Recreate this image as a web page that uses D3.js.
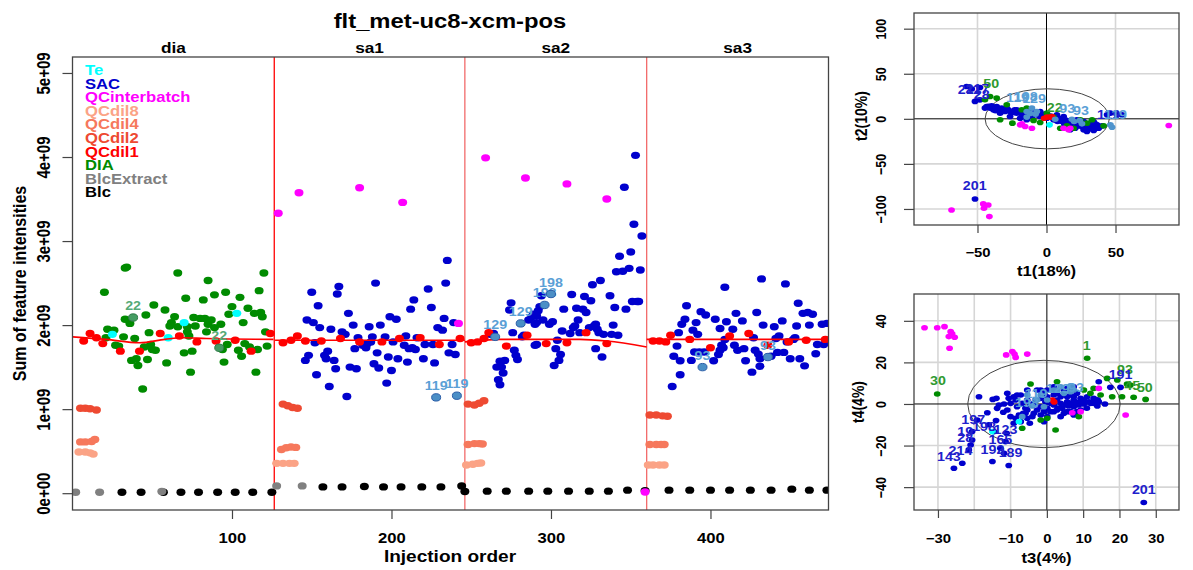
<!DOCTYPE html>
<html>
<head>
<meta charset="utf-8">
<script src="https://cdn.jsdelivr.net/npm/d3@7"></script>
<style>
  body { margin: 0; background: #fff; }
  text { font-family: "Liberation Sans", Arial, Helvetica, sans-serif; font-weight: bold; }
</style>
</head>
<body>
<div id="chart"></div>
<script>
// ---------- data: main panel (injection order, sum of intensities in 1e9) ----------
const chartTitle = 'flt_met-uc8-xcm-pos'
const batchNames = ['dia', 'sa1', 'sa2', 'sa3']
const batchEdges = [0, 126.5, 246, 360, 474]
const yTicks = [0, 1, 2, 3, 4, 5]
const xTicks = [100, 200, 300, 400]
const legendTypes = ['Te', 'SAC', 'QCinterbatch', 'QCdil8', 'QCdil4', 'QCdil2', 'QCdil1', 'DIA', 'BlcExtract', 'Blc']

const blcPts = [[31,0.012],[43,0.012],[57,0.012],[68,0.012],[79,0.012],[91,0.012],[102,0.012],[113,0.012],[125,0.012],
  [157,0.075],[169,0.075],[183,0.08],[195,0.075],[206,0.075],[219,0.075],[231,0.075],[244,0.085],
  [246,0.02],[260,0.024],[272,0.024],[286,0.024],[298,0.024],[311,0.024],[324,0.024],[336,0.024],[348,0.036],[359,0.03],
  [374,0.036],[387,0.036],[400,0.036],[412,0.036],[425,0.036],[438,0.036],[451,0.048],[462,0.036],[473,0.036]]
const blcExtractPts = [[2,0.012],[17,0.012],[56,0.02],[128,0.087],[144,0.087]]
const qcDil8Pts = [[4,0.49],[8,0.49],[11,0.48],[13,0.465],[128,0.355],[132,0.355],[136,0.355],[139,0.355],
  [247,0.335],[251,0.345],[254,0.355],[256,0.36],[361,0.335],[364,0.335],[368,0.335],[371,0.335]]
const qcDil4Pts = [[5,0.61],[8,0.61],[12,0.615],[14,0.64],[131,0.52],[134,0.54],[137,0.55],[140,0.545],
  [248,0.58],[252,0.59],[255,0.59],[257,0.585],[362,0.58],[366,0.58],[369,0.58],[371,0.58]]
const qcDil2Pts = [[5,1.01],[8,1.01],[11,1.005],[15,0.99],[132,1.06],[135,1.04],[138,1.02],[141,1.01],
  [248,1.06],[252,1.05],[255,1.07],[258,1.10],[362,0.93],[366,0.93],[370,0.92],[373,0.915]]
const qcDil1Pts = [[7,1.81],[11,1.90],[15,1.85],[19,1.78],[30,1.69],[42,1.69],[55,1.90],[67,1.87],[78,1.80],[90,1.81],[102,1.82],[112,1.69],[124,1.90],
  [132,1.79],[137,1.82],[141,1.87],[146,1.81],[156,1.81],[168,1.84],[180,1.80],[194,1.80],[205,1.84],[218,1.85],[230,1.77],[243,1.84],
  [250,1.79],[254,1.80],[258,1.84],[261,1.91],[272,1.75],[285,1.88],[297,1.78],[310,1.79],[322,1.91],[335,1.78],
  [364,1.81],[368,1.81],[372,1.80],[375,1.88],[387,1.83],[400,1.73],[412,1.87],[424,1.90],[436,1.76],[449,1.80],[460,1.82],[472,1.83]]
const qcInterPts = [[129,3.33],[142,3.575],[180,3.635],[207,3.46],[242,2.02],[259,3.99],[284,3.75],[310,3.68],[335,3.50],[359,0.015]]
const tePts = [[25,1.89],[60,1.85],[70,2.03],[103,2.14]]
const diaPts = [[34,2.69],[33,2.68],[66,2.62],[85,2.53],[120,2.62],[20,2.39],[96,2.39],[89,2.36],[117,2.41],[71,2.32],[82,2.30],[105,2.33],
  [51,2.24],[58,2.18],[100,2.22],[110,2.20],[46,2.12],[64,2.10],[98,2.13],[114,2.14],[118,2.15],[119,2.10],[33,2.07],[36,2.02],
  [76,2.09],[80,2.08],[83,2.08],[87,2.06],[85,2.01],[62,2.03],[61,1.99],[66,1.98],[72,1.98],[77,1.99],[93,2.01],[89,1.97],[107,2.03],
  [22,1.95],[26,1.94],[48,1.91],[72,1.92],[73,1.87],[84,1.92],[121,1.92],[32,1.86],[39,1.84],[21,1.85],[27,1.76],[29,1.75],[49,1.77],
  [50,1.71],[52,1.70],[45,1.74],[97,1.77],[94,1.71],[108,1.78],[111,1.74],[104,1.70],[116,1.71],[122,1.75],[70,1.67],[75,1.69],
  [106,1.63],[47,1.59],[40,1.60],[37,1.58],[59,1.55],[41,1.52],[95,1.56],[74,1.44],[115,1.44],[44,1.24]]
const sacSa1Pts = [[235,2.77],[234,2.50],[190,2.50],[167,2.46],[166,2.37],[150,2.39],[223,2.43],[214,2.30],[154,2.23],[212,2.19],[225,2.21],
  [173,2.14],[147,2.06],[151,2.03],[155,1.97],[162,1.95],[199,2.10],[203,2.07],[233,2.08],[239,2.03],[229,1.97],[232,1.94],[169,1.92],
  [171,1.89],[176,2.00],[186,1.98],[193,2.00],[179,1.85],[188,1.86],[196,1.86],[209,1.87],[216,1.85],[152,1.79],[185,1.78],[187,1.80],
  [201,1.80],[208,1.76],[211,1.72],[215,1.71],[221,1.77],[226,1.77],[238,1.77],[148,1.64],[146,1.58],[158,1.64],[160,1.69],[159,1.60],
  [164,1.58],[177,1.72],[184,1.73],[191,1.67],[198,1.62],[204,1.60],[210,1.56],[220,1.60],[227,1.55],[236,1.67],[240,1.65],[189,1.54],
  [192,1.49],[200,1.46],[165,1.48],[174,1.50],[178,1.48],[153,1.41],[197,1.31],[161,1.27],[172,1.15],[182,1.76],[213,1.73]]
const sacSa2Pts = [[353,4.02],[346,3.64],[352,3.20],[357,3.06],[350,2.87],[343,2.82],[349,2.675],[345,2.64],[341,2.635],[356,2.655],
  [331,2.53],[326,2.48],[313,2.365],[321,2.34],[337,2.35],[325,2.29],[275,2.265],[274,2.18],[294,2.35],[293,2.22],[292,2.17],[289,2.13],
  [288,2.10],[286,2.06],[308,2.19],[316,2.20],[320,2.19],[322,2.15],[340,2.21],[347,2.19],[351,2.28],[354,2.28],[355,2.28],[301,2.04],
  [295,2.06],[291,2.03],[290,2.01],[317,2.06],[315,1.99],[314,1.97],[324,1.97],[327,1.99],[328,2.01],[329,1.95],[330,1.91],[333,1.89],
  [339,2.00],[342,1.88],[338,1.89],[307,1.93],[312,1.90],[318,1.91],[276,1.91],[282,1.86],[264,1.90],[262,1.89],[283,1.88],[291,1.77],
  [304,1.82],[303,1.72],[306,1.65],[305,1.58],[302,1.52],[277,1.70],[278,1.64],[279,1.59],[271,1.58],[269,1.50],[266,1.50],[270,1.43],
  [267,1.35],[268,1.29],[328,1.72],[332,1.62],[299,2.01],[291,2.11],[290,1.76],[268,1.57]]
const sacSa3Pts = [[432,2.55],[447,2.49],[409,2.45],[455,2.26],[385,2.23],[394,2.16],[397,2.12],[403,2.07],[384,2.07],[382,2.01],[391,2.03],
  [410,2.04],[416,2.14],[420,2.05],[429,2.15],[433,2.00],[440,1.98],[445,2.05],[454,1.99],[458,2.14],[461,2.15],[464,2.13],[462,2.00],
  [470,2.01],[380,1.91],[389,1.94],[392,1.89],[406,1.96],[414,1.95],[443,1.87],[441,1.84],[427,1.85],[453,1.85],[467,1.77],[471,1.77],
  [379,1.75],[377,1.63],[381,1.575],[388,1.58],[390,1.68],[393,1.68],[396,1.68],[407,1.76],[408,1.73],[415,1.76],[417,1.70],[421,1.72],
  [405,1.65],[402,1.575],[422,1.575],[428,1.70],[430,1.655],[431,1.60],[438,1.63],[442,1.675],[446,1.675],[450,1.60],[456,1.60],
  [459,1.515],[466,1.66],[431,1.51],[426,1.44],[381,1.41],[376,1.27],[452,1.83],[448,1.80],[409,1.83],[406,1.70],[473,2.02],[473,1.80]]
// labelled outliers: [order, value, label, type]
const mainOutliers = [[38,2.09,'22','DIA'],[92,1.73,'22','DIA'],[228,1.14,'119','SAC'],[241,1.16,'119','SAC'],[265,1.86,'129','SAC'],
  [281,2.02,'129','SAC'],[296,2.24,'198','SAC'],[300,2.37,'198','SAC'],[395,1.50,'93','SAC'],[436,1.62,'93','SAC']]
// loess fit of QC per batch
const loessDia = [[0,1.86],[21,1.83],[42,1.79],[58,1.83],[69,1.85],[84,1.84],[126,1.83]]
const loessSa1 = [[127,1.82],[246,1.82]]
const loessSa2 = [[246,1.80],[268,1.83],[318,1.83],[335,1.81],[360,1.74]]
const loessSa3 = [[360,1.83],[474,1.83]]

// ---------- data: PCA scores t1/t2 ----------
const pca12Sac = [[-51.8,19.3],[-48.2,21],[-44.6,11.9],[-40.9,11.9],[-36.1,13.7],[-31.2,10],[-26.4,8.1],[-21.6,6.3],[-15.5,4.4],[-9.4,4.4],
  [-4.6,2.6],[0.3,0.7],[5.1,-1.1],[10,-1.1],[14.8,-3],[19.6,-4.8],[24.5,-6.7],[29.3,-8.5],[34.1,-8.5],[26.9,-12.2],[17.2,-12.2],[43.9,4.4],
  [51.1,4.4],[54.7,4.4],[46.3,6.3],[-57.9,35.9],[-54.2,33],[-48.2,34.8],[-14.3,-1.1],[-19.1,0.7],[-26.4,2.6],[7.5,4.4],[12.4,2.6],[22,-1.1],
  [31.7,-4.8],[-4.6,8.1],[-10.6,10],[-38.5,10],[-33.6,6.3],[-28.8,11.9],[-17.9,4.4],[18.4,-8.5],[20.8,-10.4],[28.1,-12.2],[36.6,-6.7],
  [34.1,-3],[40.2,-7.8],[-42,14],[-37,9],[-23,10],[-12,8],[-2,5],[3,3],[8,-3],[13,-6],[17,-2],[23,-8],[27,-3],[32,-11],[38,-9],
  [-43.4,13.7],[-39.7,14.4],[-37.3,11.9],[-34.9,10],[-32.5,11.9],[-30,8.1],[-27.6,10],[-24,7],[-21.6,10],[-17.9,6.3],[-15.5,2.6],
  [-13.1,6.3],[-10.7,2.6],[-7,4.4],[-3.4,4.4],[-1,4.4],[1.5,2.6],[3.9,1.9],[6.3,-1.1],[8.7,0.7],[11.1,-3],[13.6,-1.1],[16,-4.8],
  [18.4,-3],[20.8,-6.7],[23.3,-4.1],[25.7,-8.5],[28.1,-6.7],[30.5,-10.4],[32.9,-7.8],[35.4,-5.6],[37.8,-10.4],[34.2,-13],[29.3,-14.1],
  [-51.8,-88.9]]
const pca12Dia = [[-33.6,-1.1],[-24.7,-4.8],[-17.9,10],[-28.8,15.6],[-36.1,23],[-14.3,11.9],[-9.4,-1.9],[0.3,6.3],[10,-10.4],[19.6,-10.4],
  [29.3,-4.8],[41.4,-7.8],[33,-1.1],[5.1,1.9],[-4.6,-4.1],[-44.6,21.1],[-40.9,24.8],[14.8,-7.8],[24.5,-1.1]]
const pca12Qci = [[-19.1,-6.7],[-17.9,-5.6],[-10.6,-10.4],[-15.5,-8.5],[12.4,-10.4],[16,-12.2],[17.2,-10.4],[88.6,-7.4],
  [-68.8,-101.1],[-45.8,-94.4],[-42.2,-95.6],[-45.3,-99.3],[-41.4,-108.5]]
const pca12Qc = [[0.3,1.9],[2.7,1.9],[-1.7,0.7],[4,2.5]]
const pca12Out = [[-14.3,8.1],[-10.6,11.9],[-7,8.1],[6.3,-0.4],[18.4,-0.4],[25.7,-5.6],[47.5,-9.3],[46.3,-6.7],[-14.3,1.9],
  [-12,6],[-8,5],[20,-3],[24,-2]]
const pca12Te = [[2.2,-6.7]]
const pca12Labels = [[-52,-74,'201','SAC'],[-56,33,'211','SAC'],[-50,34,'217','SAC'],[-47,27,'28','SAC'],[-40,39,'50','DIA'],
  [-21,24,'119','OUT'],[-15,25,'198','OUT'],[-9,23,'129','OUT'],[6,13,'22','DIA'],[15,12,'93','OUT'],[25,9,'93','OUT'],
  [45,5,'119','SAC'],[50,5,'119','OUT']]
const pca12XTicks = [-50, 0, 50]
const pca12YTicks = [-100, -50, 0, 50, 100]

// ---------- data: PCA scores t3/t4 ----------
const pca34Sac = [[-9.1,3.5],[-7.2,4.3],[-5.4,1.9],[-3.6,0.3],[-1.7,-1.3],[0.1,-2.1],[1.9,-0.5],[3.8,0.3],[5.6,1.1],[7.4,1.9],[9.3,2.7],
  [11.1,3.5],[12,0.3],[13.9,-1],[1.9,-3.7],[0.1,-6.1],[-1.7,-5.3],[-3.6,-4.5],[-5.4,-6.9],[-7.2,-8.5],[-9.1,-9.3],[-10,-6.1],[-8.2,-1.3],
  [-5.4,-2.9],[7.4,-1.3],[9.3,-2.9],[6.5,4.3],[4.7,6.7],[2.8,5.1],[-0.8,5.1],[-2.7,6.7],[-5.4,6.7],[-8.2,4.3],[-10.5,2.7],[-11.8,0],
  [-13.2,-0.5],[12.9,2.7],[10.2,0],[-10.9,5.1],[-6.5,-4.5],[-4.7,-9.3],[-0.8,-8.5],[5.6,-3.7],[7.4,-5.3],[3.8,-6.1],
  [-3,2],[0,1],[3,-2],[6,-1],[9,1],[11,-2],[14,2],[16,0],[-12,-4],[-14,-8],[-16,-10],
  [-10,0.3],[-8.6,1.9],[-6.8,0.3],[-5.9,-2.1],[-4.5,-0.5],[-3.1,1.9],[-1.7,2.7],[-0.4,1.1],[1,0.3],[2.8,1.9],[4.2,-2.1],[5.1,-0.5],
  [6.5,0.3],[7.9,0.3],[8.8,-0.5],[10.2,1.9],[11.6,1.1],[12.9,0.3],[14.3,1.1],[7.4,3.5],[5.6,3.5],[3.8,3.5],[1.9,4.3],[0.1,3.5],
  [-2.7,-2.9],[-4,-6.1],[-5.9,-4.5],[-7.7,-5.3],[-8.6,-6.9],[-0.8,-3.7],[1,-3.7],[2.8,-2.9],[4.7,-4.5],[6.5,-3.7],[8.3,-3.7],
  [-1.7,6.7],[0.1,6.7],[1.9,8.3],[5.6,7.5],[7.4,8.3],[8.3,5.1],
  [-18.7,3.5],[-14.9,2.2],[-13.9,2.7],[-16.4,-4.2],[-13.7,-2.1],[-10.9,-2.9],[-19.2,-7.7],[-20.6,-13.3],[-20.6,-17.3],[-21,-19.7],
  [-21.5,-22.1],[-23.3,-28.5],[-25.6,-30.9],[-15,-27.7],[-10.5,-29.6],[-11.8,-23.7],[-12.8,-21.3],[-11.4,-18.1],[-11.1,-14.1],
  [-14.6,-13.3],[17.5,8],[20.3,8],[14.3,10.7],[26.7,-47.4]]
const pca34Dia = [[11.1,22],[-30.2,4.8],[-4.5,9.6],[2.8,10.7],[10.2,6.7],[12.9,7.5],[16.6,12.3],[19.4,11.5],[22.1,9.6],[23,9.1],[20.7,3.5],
  [23.9,3.2],[27.2,2.2],[18,3.5],[14.8,4.3],[12,5.1],[-6.8,-11.7],[2.4,-12.5],[8.8,-6.1],[-1.7,-7.7],[0.1,-6.9]]
const pca34Qci = [[-33.7,36.7],[-30.2,36.7],[-28.2,37.2],[-26.5,34.8],[-26.1,33.7],[-25.4,32.1],[-27,32.4],[-26.8,26.8],[-11.2,23.6],
  [-9.5,25.2],[-8.9,24],[-8.6,22.4],[-5.4,24],[14.3,7.5],[21.7,-5.3],[7,-4.2],[9.3,-3.7]]
const pca34Qc = [[1.5,1.9],[2,1]]
const pca34Out = [[-5.4,4.3],[-1.7,4.3],[1.9,6.7],[3.8,8.3],[6.5,8.7],[-0.8,-1.3],[-6.8,-6.1],[7.4,6.7],[-4,-1],
  [-2.7,1.9],[0.1,1.9],[2.8,6.7],[4.7,5.1],[6.5,5.9]]
const pca34Te = [[-7.7,-8.5],[-15,-13.3]]
const pca34Labels = [[11,28,'1','DIA'],[-30,11.5,'30','DIA'],[21.5,16.5,'93','DIA'],[23.5,9,'45','DIA'],[27,8,'50','DIA'],
  [20.3,14,'191','SAC'],[26.7,-41.3,'201','SAC'],[-27,-25.3,'143','SAC'],[-23.8,-22.5,'214','SAC'],[-15,-21.8,'192','SAC'],
  [-10,-23.5,'189','SAC'],[-12.8,-17,'165','SAC'],[-11.4,-12.5,'123','SAC'],[-17.3,-11,'198','SAC'],[-20.3,-7.5,'197','SAC'],
  [-22.5,-13,'19','SAC'],[-22.5,-16,'28','SAC'],[-5.5,0.5,'198','OUT'],[-3,5,'119','OUT'],[3,7.5,'129','OUT'],[8,8,'93','OUT']]
const pca34XTicks = [-30, -20, -10, 0, 10, 20, 30]
const pca34XLabels = [-30, -10, 0, 10, 20, 30]
const pca34YTicks = [-40, -20, 0, 20, 40]

// ---------- styles ----------
const typeColors = {
  Te: '#00ffff', SAC: '#0000cd', QCinterbatch: '#ff00ff', QCdil8: '#fba386', QCdil4: '#f6785c',
  QCdil2: '#ee4a32', QCdil1: '#ff0000', DIA: '#008b00', BlcExtract: '#808080', Blc: '#000000'
}
const outColor = { SAC: '#4b8fc6', DIA: '#449c62' }
const outText = { SAC: '#5aa0d6', DIA: '#55aa77', OUT: '#5aa0d6' }
const pcaText = { SAC: '#2020cc', DIA: '#2f9a2f', OUT: '#5aa0d6' }
const SX = 1.19

const svg = d3.select('#chart').append('svg').attr('width', 1193).attr('height', 570)

function label (g, px, py, str, size, fill, rotate, anchor) {
  return g.append('text')
    .attr('transform', `translate(${px},${py}) scale(${SX},1)` + (rotate ? ' rotate(-90)' : ''))
    .attr('text-anchor', anchor || 'middle')
    .attr('font-size', size)
    .attr('fill', fill || '#000')
    .text(str)
}

function dots (g, pts, sx, sy, color, rx, ry, stroke) {
  g.append('g').selectAll('ellipse').data(pts).join('ellipse')
    .attr('cx', d => sx(d[0])).attr('cy', d => sy(d[1]))
    .attr('rx', rx).attr('ry', ry)
    .attr('fill', color)
    .attr('stroke', stroke || 'none').attr('stroke-width', stroke ? 1 : 0)
}

// ---------- main panel ----------
const x = d3.scaleLinear().domain([0, 474]).range([72.5, 828.5])
const y = d3.scaleLinear().domain([-0.2, 5.19]).range([510, 57])

svg.append('clipPath').attr('id', 'clipMain').append('rect')
  .attr('x', 72.5).attr('y', 57).attr('width', 756).attr('height', 453)
const main = svg.append('g').attr('clip-path', 'url(#clipMain)')

// batch separators
main.selectAll('line.batch').data(batchEdges.slice(1, 4)).join('line')
  .attr('x1', d => x(d)).attr('x2', d => x(d)).attr('y1', 57).attr('y2', 510)
  .attr('stroke', (d, i) => i === 0 ? '#ff0000' : '#f26a6a').attr('stroke-width', 1.3)

const rx = 4.5, ry = 3.7
dots(main, blcPts, x, y, typeColors.Blc, rx, ry)
dots(main, blcExtractPts, x, y, typeColors.BlcExtract, rx, ry)
dots(main, qcDil8Pts, x, y, typeColors.QCdil8, rx, ry)
dots(main, qcDil4Pts, x, y, typeColors.QCdil4, rx, ry)
dots(main, qcDil2Pts, x, y, typeColors.QCdil2, rx, ry)
dots(main, diaPts, x, y, typeColors.DIA, rx, ry)
dots(main, sacSa1Pts.concat(sacSa2Pts, sacSa3Pts), x, y, typeColors.SAC, rx, ry)
dots(main, tePts, x, y, typeColors.Te, rx, ry)
dots(main, qcDil1Pts, x, y, typeColors.QCdil1, rx, ry)
dots(main, qcInterPts, x, y, typeColors.QCinterbatch, rx, ry)

const loessLine = d3.line().x(d => x(d[0])).y(d => y(d[1])).curve(d3.curveMonotoneX)
main.selectAll('path.loess').data([loessDia, loessSa1, loessSa2, loessSa3]).join('path')
  .attr('d', loessLine).attr('fill', 'none').attr('stroke', '#ff0000').attr('stroke-width', 1.6)

mainOutliers.forEach(d => {
  main.append('ellipse').attr('cx', x(d[0])).attr('cy', y(d[1])).attr('rx', rx).attr('ry', ry)
    .attr('fill', outColor[d[3]]).attr('stroke', d[3] === 'SAC' ? '#2b5ea8' : '#2e7a48').attr('stroke-width', 1)
  label(main, x(d[0]), y(d[1]) - 7.5, d[2], 12, outText[d[3]])
})

svg.append('rect').attr('x', 72.5).attr('y', 57).attr('width', 756).attr('height', 453)
  .attr('fill', 'none').attr('stroke', '#444').attr('stroke-width', 1.3)

// axes
svg.append('g').attr('transform', 'translate(72.5,0)')
  .call(d3.axisLeft(y).tickValues(yTicks).tickSize(10).tickFormat(d => d === 0 ? '0e+00' : d + 'e+09'))
  .call(g => g.select('.domain').remove())
  .call(g => g.selectAll('line').attr('stroke', '#444').attr('stroke-width', 1.2))
  .call(g => g.selectAll('text').attr('font-size', 15).attr('fill', '#000').attr('text-anchor', 'middle')
    .attr('x', 0).attr('dy', 0).attr('y', -22.5 / SX).attr('transform', `scale(${SX},1) rotate(-90)`))

svg.append('g').attr('transform', 'translate(0,510)')
  .call(d3.axisBottom(x).tickValues(xTicks).tickSize(9))
  .call(g => g.select('.domain').remove())
  .call(g => g.selectAll('line').attr('stroke', '#444').attr('stroke-width', 1.2))
  .call(g => g.selectAll('text').attr('font-size', 14).attr('fill', '#000')
    .attr('y', 33).attr('dy', 0).attr('transform', `scale(${SX},1)`)
    .attr('x', 0))

label(svg, 450, 28, chartTitle, 20)
batchNames.forEach((b, i) => label(svg, x((batchEdges[i] + batchEdges[i + 1]) / 2), 53, b, 14.5))
label(svg, 450, 562, 'Injection order', 16)
label(svg, 26, 283.5, 'Sum of feature intensities', 16, '#000', true)

legendTypes.forEach((t, i) => label(svg, 85, 75 + i * 13.6, t, 14, typeColors[t], false, 'start'))

// ---------- PCA panels ----------
function pcaPanel (opt) {
  const sx = d3.scaleLinear().domain(opt.xDom).range([914, 1179])
  const sy = d3.scaleLinear().domain(opt.yDom).range([opt.bottom, opt.top])
  const id = 'clip' + opt.name
  svg.append('clipPath').attr('id', id).append('rect')
    .attr('x', 914).attr('y', opt.top).attr('width', 265).attr('height', opt.bottom - opt.top)
  const g = svg.append('g').attr('clip-path', `url(#${id})`)

  g.selectAll('line.gx').data(opt.xTicks.filter(d => d !== 0)).join('line')
    .attr('x1', d => sx(d)).attr('x2', d => sx(d)).attr('y1', opt.top).attr('y2', opt.bottom)
    .attr('stroke', '#d6d6d6').attr('stroke-width', 1.6)
  g.selectAll('line.gy').data(opt.yTicks.filter(d => d !== 0)).join('line')
    .attr('y1', d => sy(d)).attr('y2', d => sy(d)).attr('x1', 914).attr('x2', 1179)
    .attr('stroke', '#d6d6d6').attr('stroke-width', 1.6)
  g.append('line').attr('x1', sx(0)).attr('x2', sx(0)).attr('y1', opt.top).attr('y2', opt.bottom).attr('stroke', '#000')
  g.append('line').attr('y1', sy(0)).attr('y2', sy(0)).attr('x1', 914).attr('x2', 1179).attr('stroke', '#000')

  g.append('ellipse').attr('cx', sx(opt.ell[0])).attr('cy', sy(opt.ell[1]))
    .attr('rx', sx(opt.ell[2]) - sx(0)).attr('ry', sy(0) - sy(opt.ell[3]))
    .attr('fill', 'none').attr('stroke', '#444').attr('stroke-width', 1)

  const prx = 3.4, pry = 2.8
  dots(g, opt.sac, sx, sy, typeColors.SAC, prx, pry)
  dots(g, opt.dia, sx, sy, typeColors.DIA, prx, pry)
  dots(g, opt.qci, sx, sy, typeColors.QCinterbatch, prx, pry)
  dots(g, opt.qc, sx, sy, typeColors.QCdil1, prx, pry)
  dots(g, opt.out, sx, sy, '#4f94cd', prx, pry)
  dots(g, opt.te, sx, sy, typeColors.Te, prx, pry)
  opt.labels.forEach(d => label(g, sx(d[0]), sy(d[1]) + 4.5, d[2], 12, pcaText[d[3]]))

  svg.append('rect').attr('x', 914).attr('y', opt.top).attr('width', 265).attr('height', opt.bottom - opt.top)
    .attr('fill', 'none').attr('stroke', '#444').attr('stroke-width', 1.3)

  svg.append('g').attr('transform', `translate(0,${opt.bottom})`)
    .call(d3.axisBottom(sx).tickValues(opt.xLabels).tickSize(8))
    .call(a => a.select('.domain').remove())
    .call(a => a.selectAll('line').attr('stroke', '#444').attr('stroke-width', 1.2))
    .call(a => a.selectAll('text').attr('font-size', 12.5).attr('fill', '#000')
      .attr('x', 0).attr('y', opt.xLabelY).attr('dy', 0).attr('transform', `scale(${SX},1)`))
  svg.append('g').attr('transform', 'translate(914,0)')
    .call(d3.axisLeft(sy).tickValues(opt.yTicks).tickSize(10))
    .call(a => a.select('.domain').remove())
    .call(a => a.selectAll('line').attr('stroke', '#444').attr('stroke-width', 1.2))
    .call(a => a.selectAll('text').attr('font-size', 12.5).attr('fill', '#000').attr('text-anchor', 'middle')
      .attr('x', 0).attr('dy', 0).attr('y', -28 / SX).attr('transform', `scale(${SX},1) rotate(-90)`))

  label(svg, 1046.5, opt.xTitleY, opt.xTitle, 14)
  label(svg, opt.yTitleX, opt.yTitleMid, opt.yTitle, 14, '#000', true)
}

pcaPanel({
  name: '12', xDom: [-96, 96], yDom: [-117.8, 117.4], top: 13, bottom: 225,
  xTicks: pca12XTicks, xLabels: pca12XTicks, yTicks: pca12YTicks, ell: [0.5, 0, 45, 33.3],
  sac: pca12Sac, dia: pca12Dia, qci: pca12Qci, qc: pca12Qc, out: pca12Out, te: pca12Te, labels: pca12Labels,
  xLabelY: 32, xTitle: 't1(18%)', xTitleY: 276, yTitle: 't2(10%)', yTitleX: 867, yTitleMid: 116
})
pcaPanel({
  name: '34', xDom: [-36.6, 36.4], yDom: [-51, 52.9], top: 294, bottom: 510,
  xTicks: pca34XTicks, xLabels: pca34XLabels, yTicks: pca34YTicks, ell: [-0.8, 0, 21, 21],
  sac: pca34Sac, dia: pca34Dia, qci: pca34Qci, qc: pca34Qc, out: pca34Out, te: pca34Te, labels: pca34Labels,
  xLabelY: 33, xTitle: 't3(4%)', xTitleY: 563, yTitle: 't4(4%)', yTitleX: 864, yTitleMid: 402
})
</script>
</body>
</html>
